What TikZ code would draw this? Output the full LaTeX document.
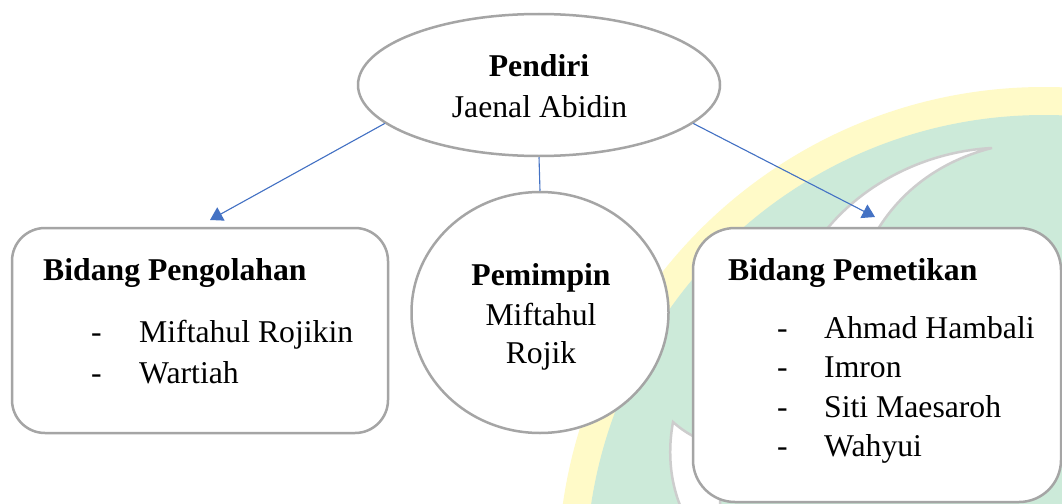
\documentclass[tikz,border=0pt]{standalone}
\usepackage{fontspec}
\setmainfont{Liberation Serif}
\usetikzlibrary{shapes.geometric,arrows.meta}
\definecolor{shapegray}{RGB}{165,165,165}
\definecolor{linkblue}{RGB}{68,114,196}
\definecolor{wmgreen}{RGB}{204,234,217}
\definecolor{wmyellow}{RGB}{255,250,200}
\definecolor{wmgray}{RGB}{205,205,205}
\tikzset{
  shapeline/.style={draw=shapegray, line width=2.5pt, fill=white, inner sep=0pt},
  boxshape/.style={shapeline, rectangle},
  ovalshape/.style={shapeline, ellipse},
  txt/.style={inner sep=0pt, font=\fontsize{31.7pt}{40pt}\selectfont},
  btxt/.style={txt, font=\fontsize{31.7pt}{40pt}\selectfont\bfseries},
  link/.style={draw=linkblue, line width=1.1pt},
  linkarrow/.style={link, -{Triangle[length=12.5pt,width=15pt]}, fill=linkblue}
}
\begin{document}
\begin{tikzpicture}[x=1pt,y=-1pt]
\useasboundingbox (0,0) rectangle (1062,503);
\fill[white] (0,0) rectangle (1062,503);
% faint watermark in the background
\begin{scope}
\clip (0,0) rectangle (1062,503);
\fill[wmyellow] (1044,573) circle[radius=486];
\fill[wmgreen] (1044,573) circle[radius=458];
\filldraw[fill=white, draw=wmgray, line width=2.5pt]
  (805,262) .. controls (840,195) and (915,152) .. (992,148)
  .. controls (935,162) and (885,200) .. (862,262) -- cycle;
\filldraw[fill=white, draw=wmgray, line width=2.5pt]
  (673,422) .. controls (667,455) and (671,485) .. (682,510)
  -- (720,510) -- (720,445) .. controls (700,442) and (684,432) .. cycle;
\end{scope}
% shapes
\node[ovalshape, minimum width=362pt, minimum height=142pt] (pendiri) at (539,85) {};
\node[ovalshape, minimum width=257pt, minimum height=241pt] (pemimpin) at (540,312.5) {};
\node[boxshape, rounded corners=33pt, minimum width=376pt, minimum height=205pt] (pengolahan) at (200,330.5) {};
\node[boxshape, rounded corners=42pt, minimum width=368pt, minimum height=274pt] (pemetikan) at (877,365) {};
% connectors
\coordinate (tipL) at (210,220);
\coordinate (tipR) at (875,217);
\draw[linkarrow] (pendiri.194) -- (tipL);
\draw[linkarrow] (pendiri.-14) -- (tipR);
\draw[link] (pendiri.south) -- (pemimpin.north);
% texts
\node[btxt, anchor=base] (t1) at (539,77) {Pendiri};
\node[txt, anchor=base] (t2) at (539.5,117) {Jaenal Abidin};
\node[btxt, anchor=base] (t3) at (541,285) {Pemimpin};
\node[txt, anchor=base] (t4) at (541,325) {Miftahul};
\node[txt, anchor=base] (t5) at (541,363) {Rojik};
\node[btxt, anchor=base west] (t6) at (43,280) {Bidang Pengolahan};
\node[txt, anchor=base west] (d1) at (91,342) {-};
\node[txt, anchor=base west] (t7) at (139,342) {Miftahul Rojikin};
\node[txt, anchor=base west] (d2) at (91,383) {-};
\node[txt, anchor=base west] (t8) at (139,383) {Wartiah};
\node[btxt, anchor=base west] (t9) at (728,280) {Bidang Pemetikan};
\node[txt, anchor=base west] (d3) at (777,338) {-};
\node[txt, anchor=base west] (t10) at (824,338) {Ahmad Hambali};
\node[txt, anchor=base west] (d4) at (777,377) {-};
\node[txt, anchor=base west] (t11) at (824,377) {Imron};
\node[txt, anchor=base west] (d5) at (777,417) {-};
\node[txt, anchor=base west] (t12) at (824,417) {Siti Maesaroh};
\node[txt, anchor=base west] (d6) at (777,456) {-};
\node[txt, anchor=base west] (t13) at (824,456) {Wahyui};
\end{tikzpicture}
\end{document}
